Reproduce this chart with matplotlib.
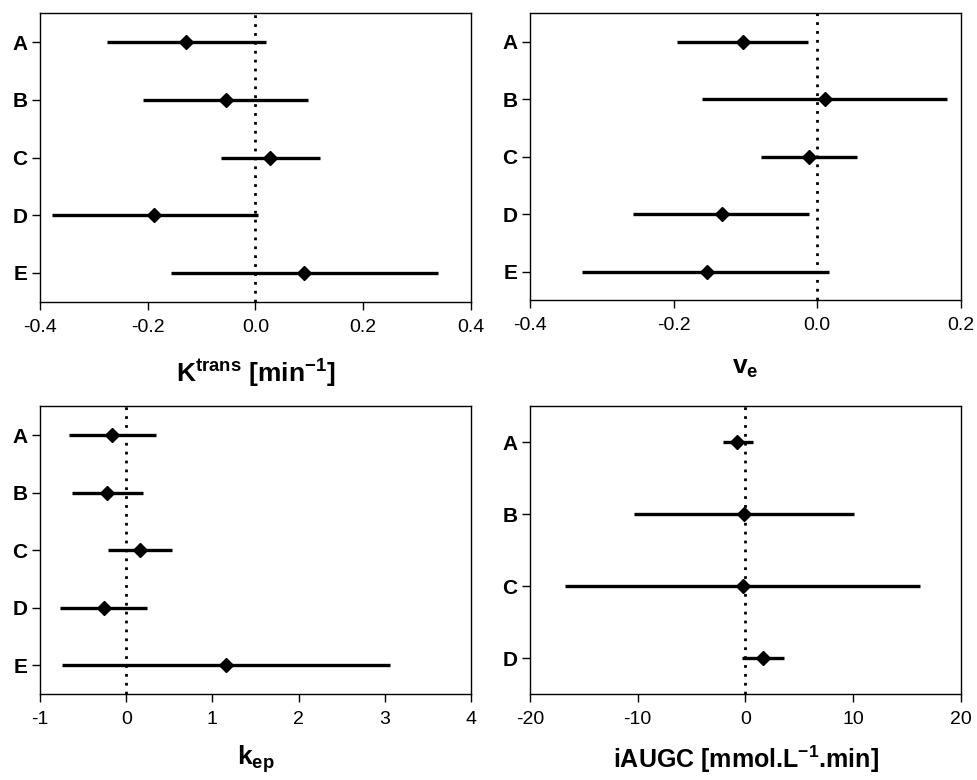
import matplotlib

matplotlib.use("Agg")
import matplotlib.pyplot as plt  # noqa: E402

plt.rcParams["font.family"] = ["Liberation Sans", "DejaVu Sans"]
plt.rcParams["axes.unicode_minus"] = False
plt.rcParams["mathtext.fontset"] = "custom"
plt.rcParams["mathtext.rm"] = "Liberation Sans"
plt.rcParams["mathtext.it"] = "Liberation Sans:italic"
plt.rcParams["mathtext.bf"] = "Liberation Sans:bold"

# estimate, lower CI, upper CI per group
groups5 = ["A", "B", "C", "D", "E"]
groups4 = ["A", "B", "C", "D"]

ktrans_est = [-0.129, -0.054, 0.027, -0.188, 0.090]
ktrans_lo = [-0.276, -0.208, -0.064, -0.378, -0.157]
ktrans_hi = [0.019, 0.098, 0.119, 0.004, 0.338]

ve_est = [-0.104, 0.011, -0.011, -0.133, -0.154]
ve_lo = [-0.196, -0.160, -0.079, -0.256, -0.327]
ve_hi = [-0.013, 0.181, 0.056, -0.011, 0.017]

kep_est = [-0.16, -0.22, 0.16, -0.26, 1.16]
kep_lo = [-0.66, -0.63, -0.21, -0.77, -0.75]
kep_hi = [0.34, 0.19, 0.53, 0.24, 3.06]

iaugc_est = [-0.74, -0.09, -0.25, 1.67]
iaugc_lo = [-2.04, -10.34, -16.72, -0.28]
iaugc_hi = [0.71, 10.12, 16.22, 3.62]

panels = [
    (groups5, ktrans_est, ktrans_lo, ktrans_hi, (-0.4, 0.4), [-0.4, -0.2, 0.0, 0.2, 0.4],
     r"$\mathbf{K^{trans}\ [min^{-1}]}$", "{:.1f}", 19, 16),
    (groups5, ve_est, ve_lo, ve_hi, (-0.4, 0.2), [-0.4, -0.2, 0.0, 0.2],
     r"$\mathbf{v_e}$", "{:.1f}", 19, 16),
    (groups5, kep_est, kep_lo, kep_hi, (-1, 4), [-1, 0, 1, 2, 3, 4],
     r"$\mathbf{k_{ep}}$", "{:.0f}", 19, 11),
    (groups4, iaugc_est, iaugc_lo, iaugc_hi, (-20, 20), [-20, -10, 0, 10, 20],
     r"iAUGC [mmol.L$^{\mathbf{-1}}$.min]", "{:.0f}", 18, 11),
]

rects = [
    [0.041, 0.613, 0.441, 0.370],
    [0.5425, 0.615, 0.441, 0.368],
    [0.041, 0.110, 0.441, 0.369],
    [0.5425, 0.110, 0.441, 0.369],
]

fig = plt.figure(figsize=(9.77, 7.8), dpi=100)
for rect, (grp, est, lo, hi, xlim, xticks, xlabel, fmt, lsize, lpad) in zip(rects, panels):
    ax = fig.add_axes(rect)
    n = len(grp)
    ys = list(range(n, 0, -1))
    ax.axvline(0, color="black", ls=(0, (1, 2.2)), lw=2.0, zorder=1)
    ax.hlines(ys, lo, hi, color="black", lw=2.4, zorder=2)
    ax.plot(est, ys, ls="none", marker="D", ms=7.5, color="black", zorder=3)
    ax.set_xlim(*xlim)
    ax.set_ylim(0.5, n + 0.5)
    ax.set_xticks(xticks, [fmt.format(t) for t in xticks], fontsize=14)
    ax.set_yticks(ys, grp, fontsize=15, fontweight="bold")
    ax.tick_params(direction="out", length=6, width=1, pad=3)
    ax.tick_params(axis="x", pad=6)
    for s in ax.spines.values():
        s.set_linewidth(1.0)
    ax.set_xlabel(xlabel, fontsize=lsize, fontweight="bold", labelpad=lpad)

fig.savefig("out.png", dpi=100)
